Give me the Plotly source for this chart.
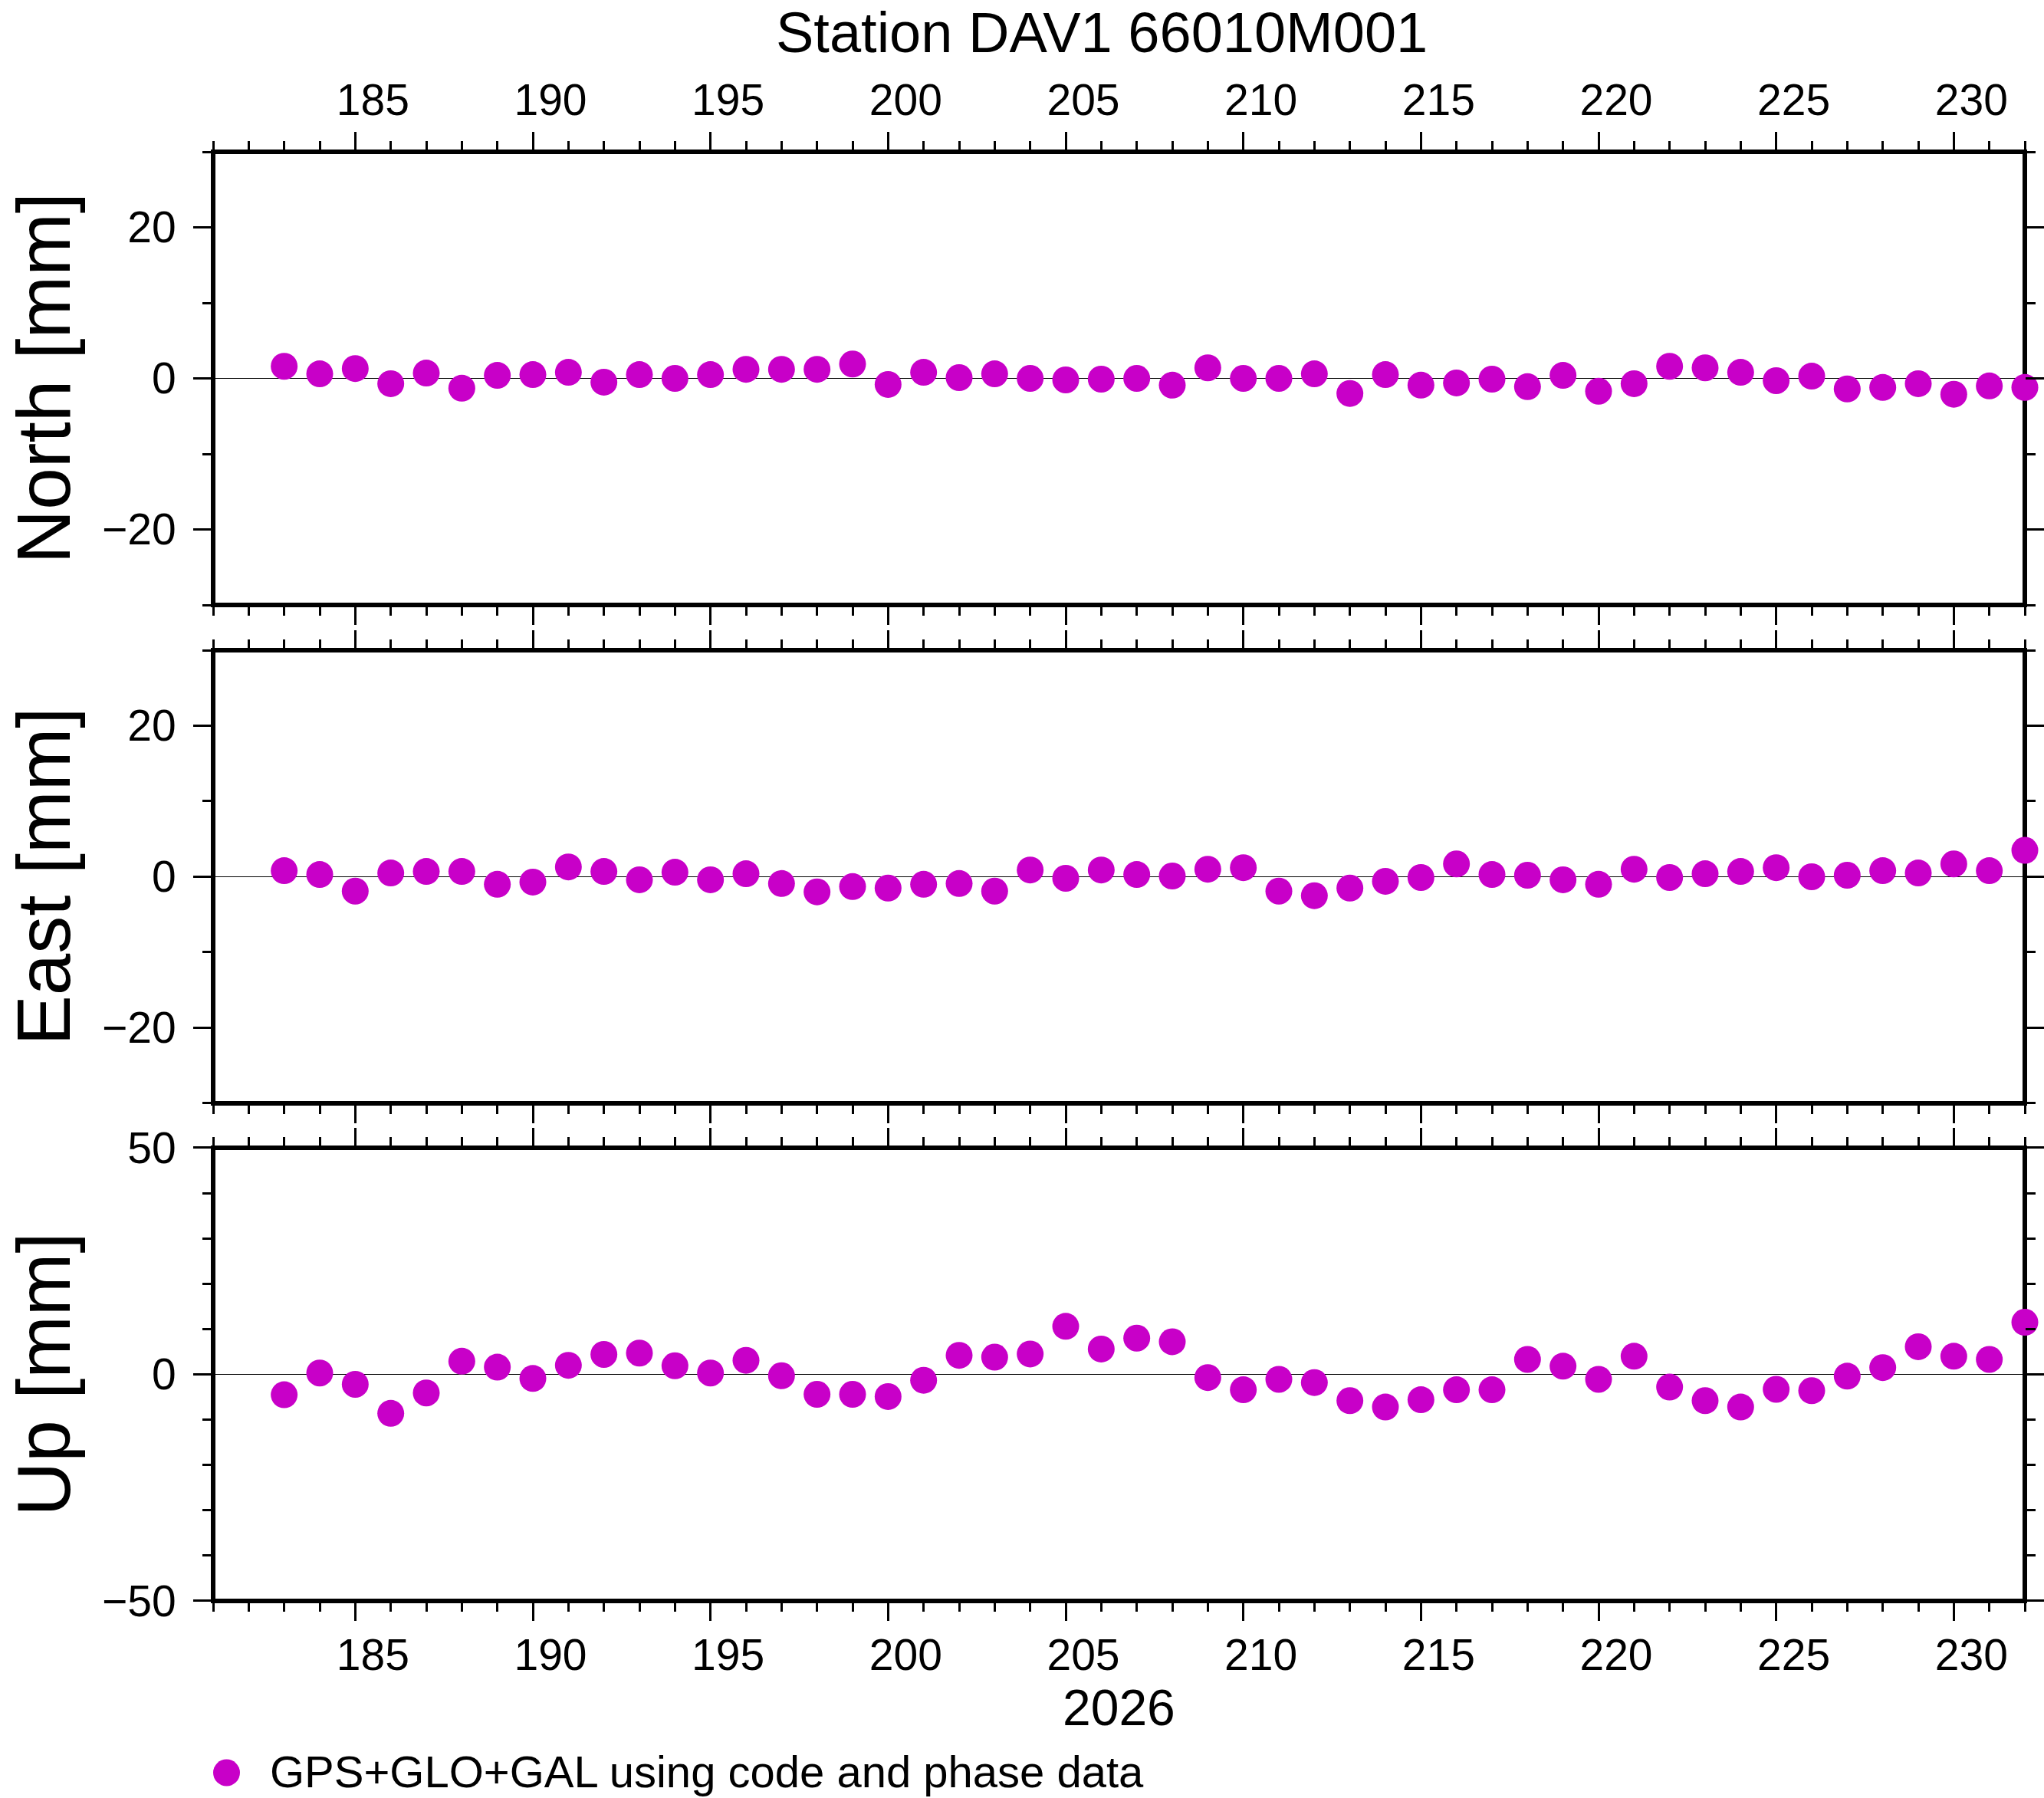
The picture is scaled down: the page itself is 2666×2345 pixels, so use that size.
import plotly.graph_objects as go

# ---- data ----
doy = [183, 184, 185, 186, 187, 188, 189, 190, 191, 192,
       193, 194, 195, 196, 197, 198, 199, 200, 201, 202,
       203, 204, 205, 206, 207, 208, 209, 210, 211, 212,
       213, 214, 215, 216, 217, 218, 219, 220, 221, 222,
       223, 224, 225, 226, 227, 228, 229, 230, 231, 232]

north = [1.6, 0.6, 1.3, -0.7, 0.7, -1.3, 0.4, 0.5, 0.8, -0.5,
         0.5, 0.0, 0.5, 1.2, 1.2, 1.2, 1.9, -0.8, 0.8, 0.1,
         0.6, 0.0, -0.2, -0.1, 0.0, -0.9, 1.4, 0.0, 0.0, 0.6,
         -2.0, 0.5, -0.9, -0.6, -0.1, -1.1, 0.4, -1.7, -0.7, 1.6,
         1.4, 0.8, -0.3, 0.3, -1.4, -1.2, -0.7, -2.1, -1.0, -1.2]

east = [0.8, 0.3, -1.9, 0.5, 0.7, 0.7, -1.0, -0.7, 1.3, 0.7,
        -0.4, 0.6, -0.4, 0.4, -0.9, -2.0, -1.3, -1.5, -1.0, -0.9,
        -1.9, 0.9, -0.2, 0.9, 0.3, 0.1, 1.0, 1.2, -1.9, -2.5,
        -1.5, -0.6, -0.1, 1.7, 0.3, 0.2, -0.4, -1.0, 1.0, -0.1,
        0.4, 0.7, 1.2, 0.0, 0.2, 0.8, 0.5, 1.7, 0.8, 3.5]

up = [-4.5, 0.3, -2.2, -8.6, -4.1, 2.9, 1.6, -0.9, 2.0, 4.4,
      4.7, 1.9, 0.3, 3.1, -0.3, -4.4, -4.4, -4.9, -1.3, 4.2,
      3.8, 4.5, 10.6, 5.6, 8.0, 7.2, -0.7, -3.4, -1.1, -1.8,
      -5.8, -7.2, -5.6, -3.4, -3.4, 3.3, 1.8, -1.1, 4.0, -2.8,
      -5.8, -7.2, -3.3, -3.6, -0.4, 1.5, 6.1, 4.0, 3.3, 11.5]

panel_titles = ["North [mm]", "East [mm]", "Up [mm]"]
y_ranges = [[-30, 30], [-30, 30], [-50, 50]]
y_dticks = [20, 20, 50]
x_range = [181, 232]
title_text = "Station DAV1 66010M001"
year_label = "2026"
legend_text = "GPS+GLO+GAL using code and phase data"

MAG = "rgb(200,0,200)"
FONT = "Liberation Sans, Arial, Helvetica, sans-serif"

W, H = 2666, 2345
L, R, T, B = 278, 25, 198, 257
PW = W - L - R
PH = H - T - B

domains = [[0.68730, 1.0], [0.34339, 0.65608], [0.0, 0.31270]]

fig = go.Figure()
series = [north, east, up]
for i, vals in enumerate(series):
    s = "" if i == 0 else str(i + 1)
    fig.add_trace(go.Scatter(
        x=doy, y=vals, mode="markers",
        marker=dict(size=35, color=MAG, line=dict(width=0)),
        cliponaxis=False, showlegend=False,
        xaxis="x" + s, yaxis="y" + s,
    ))

tickfont = dict(family=FONT, size=57, color="black")

for i in range(3):
    s = "" if i == 0 else str(i + 1)
    xa = dict(
        domain=[0, 1], anchor="y" + s, range=x_range,
        showgrid=False, zeroline=False, showline=False,
        ticks="outside", tickmode="linear", tick0=185, dtick=5,
        ticklen=25, tickwidth=3, tickcolor="black", mirror="allticks",
        minor=dict(dtick=1, tick0=181, ticks="outside", ticklen=13,
                   tickwidth=3, tickcolor="black", showgrid=False),
        tickfont=tickfont, ticklabelshift=23,
        ticklabelstandoff=(-1 if i == 0 else -4),
        showticklabels=(i != 1),
        side="top" if i == 0 else "bottom",
    )
    ya = dict(
        domain=domains[i], anchor="x" + s, range=y_ranges[i],
        showgrid=False, zeroline=True, zerolinecolor="black", zerolinewidth=1,
        showline=False, ticks="outside", tickmode="linear", tick0=0,
        dtick=y_dticks[i], ticklen=25, tickwidth=3, tickcolor="black",
        mirror="allticks", ticklabelstandoff=11,
        minor=dict(dtick=10, ticks="outside", ticklen=13, tickwidth=3,
                   tickcolor="black", showgrid=False),
        tickfont=tickfont,
    )
    fig.layout["xaxis" + s] = xa
    fig.layout["yaxis" + s] = ya
    fig.add_shape(type="rect", xref="x" + s + " domain", yref="y" + s + " domain",
                  x0=0, x1=1, y0=0, y1=1, layer="below",
                  line=dict(color="black", width=6), fillcolor="rgba(0,0,0,0)")
    fig.add_annotation(text=panel_titles[i], textangle=-90, showarrow=False,
                       xref="paper", x=(57 - L) / PW, xanchor="center",
                       yref="y" + s + " domain", y=0.5, yanchor="middle",
                       font=dict(family=FONT, size=98, color="black"))

# title
fig.add_annotation(text=title_text, showarrow=False, xref="paper", yref="paper",
                   x=(1437 - L) / PW, y=(T + PH - 43) / PH, xanchor="center",
                   yanchor="middle", font=dict(family=FONT, size=74, color="black"))
# year label
fig.add_annotation(text=year_label, showarrow=False, xref="paper", yref="paper",
                   x=0.5, y=(T + PH - 2227) / PH, xanchor="center", yanchor="middle",
                   font=dict(family=FONT, size=66, color="black"))
# legend
fig.add_shape(type="circle", xref="paper", yref="paper",
              xsizemode="pixel", ysizemode="pixel",
              xanchor=(295.5 - L) / PW, yanchor=(T + PH - 2312) / PH,
              x0=-17.5, x1=17.5, y0=-17.5, y1=17.5,
              fillcolor=MAG, line=dict(width=0))
fig.add_annotation(text=legend_text, showarrow=False, xref="paper", yref="paper",
                   x=(350 - L) / PW, y=(T + PH - 2310) / PH, xanchor="left",
                   yanchor="middle", font=dict(family=FONT, size=58, color="black"))

fig.update_layout(
    width=W, height=H, margin=dict(l=L, r=R, t=T, b=B, pad=0),
    paper_bgcolor="white", plot_bgcolor="white", showlegend=False,
)

fig.write_html("out.html", config={"displayModeBar": False},
               post_script="document.body.style.margin='0';")
